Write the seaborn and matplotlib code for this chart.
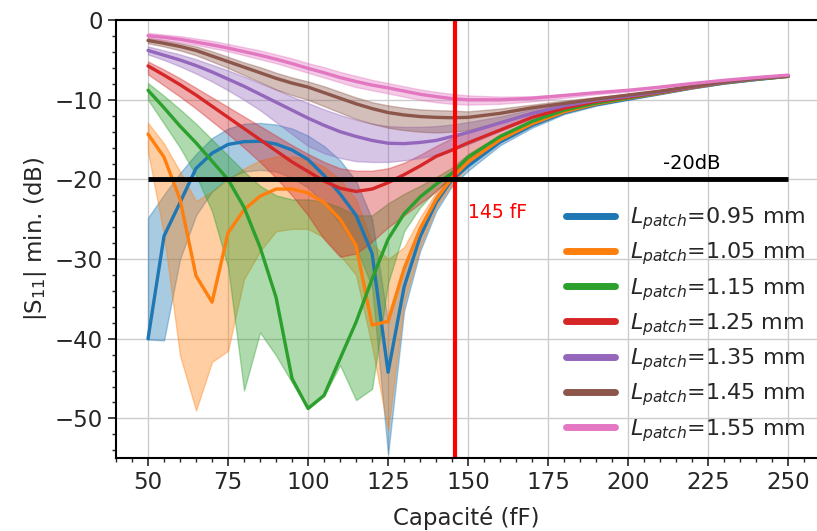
import matplotlib
matplotlib.use("Agg")
import matplotlib.pyplot as plt
from matplotlib.ticker import MultipleLocator
import numpy as np
import pandas as pd
import seaborn as sns

sns.set_style("ticks")
plt.rcParams["font.family"] = ["DejaVu Sans"]

# capacitance (fF)
cap = [50, 55, 60, 65, 70, 75, 80, 85, 90, 95, 100, 105, 110, 115, 120, 125, 130, 135, 140, 145, 150,
       160, 170, 180, 190, 200, 210, 220, 230, 240, 250]

patch_labels = ["0.95", "1.05", "1.15", "1.25", "1.35", "1.45", "1.55"]

# |S11| min (dB): line, upper and lower envelope for each patch length
s11_095 = [-40.0, -27.1, -22.9, -18.6, -16.7, -15.6, -15.25, -15.2, -15.55, -16.3, -17.5, -19.5, -21.8, -24.5, -29.3, -44.2, -33.5, -27.2, -22.9, -20.0, -18.3,
           -15.3, -13.2, -11.6, -10.6, -9.9, -9.2, -8.5, -7.9, -7.45, -7.05]
hi_095 = [-24.8, -21.9, -19.2, -16.8, -14.8, -13.6, -13.0, -12.9, -13.1, -13.6, -14.5, -15.8, -17.6, -20.2, -25.0, -38.0, -31.0, -25.8, -22.0, -19.3, -17.8,
          -15.0, -13.0, -11.45, -10.5, -9.8, -9.12, -8.45, -7.86, -7.42, -7.02]
lo_095 = [-40.1, -40.2, -30.0, -24.5, -21.5, -19.8, -19.0, -18.8, -19.0, -19.8, -21.0, -23.0, -25.5, -28.5, -33.5, -54.5, -36.5, -29.0, -24.0, -20.8, -18.9,
          -15.7, -13.5, -11.8, -10.75, -10.0, -9.3, -8.58, -7.95, -7.5, -7.08]

s11_105 = [-14.3, -17.2, -22.5, -32.1, -35.4, -26.7, -23.8, -22.1, -21.2, -21.2, -21.7, -22.9, -25.0, -28.3, -38.3, -37.8, -31.2, -26.2, -22.5, -19.8, -17.8,
           -15.0, -13.0, -11.5, -10.5, -9.8, -9.15, -8.45, -7.85, -7.4, -7.05]
hi_105 = [-12.9, -15.5, -19.0, -22.7, -21.5, -20.0, -18.6, -17.6, -17.1, -17.1, -17.5, -18.4, -20.0, -22.5, -28.0, -30.0, -28.5, -24.8, -21.6, -19.2, -17.4,
          -14.75, -12.85, -11.4, -10.42, -9.74, -9.1, -8.42, -7.83, -7.38, -7.03]
lo_105 = [-16.5, -27.0, -42.1, -49.0, -42.9, -41.5, -32.5, -29.0, -26.5, -26.2, -26.2, -27.3, -29.5, -32.0, -41.0, -51.5, -35.5, -28.5, -23.5, -20.6, -18.3,
          -15.3, -13.2, -11.65, -10.6, -9.88, -9.22, -8.5, -7.9, -7.43, -7.07]

s11_115 = [-8.8, -11.0, -13.3, -15.4, -17.7, -20.0, -23.5, -28.5, -34.8, -45.0, -48.75, -47.1, -42.5, -37.9, -32.5, -27.5, -24.3, -22.2, -20.6, -19.2, -17.2,
           -14.6, -12.7, -11.3, -10.4, -9.75, -9.1, -8.4, -7.85, -7.4, -7.05]
hi_115 = [-7.9, -9.5, -11.2, -13.0, -15.0, -17.0, -19.0, -20.8, -22.0, -22.5, -22.5, -22.8, -23.5, -24.5, -24.5, -23.0, -21.8, -20.8, -19.7, -18.5, -16.8,
          -14.4, -12.55, -11.2, -10.33, -9.7, -9.06, -8.37, -7.83, -7.38, -7.03]
lo_115 = [-10.0, -13.0, -16.0, -19.5, -24.0, -31.0, -46.5, -39.2, -42.1, -45.5, -48.8, -47.2, -43.3, -47.7, -46.3, -33.0, -26.5, -23.5, -21.3, -19.8, -17.6,
          -14.85, -12.85, -11.42, -10.48, -9.8, -9.14, -8.44, -7.88, -7.42, -7.07]

s11_125 = [-5.75, -6.9, -8.1, -9.4, -10.8, -12.2, -13.6, -15.0, -16.4, -17.8, -19.0, -20.2, -21.1, -21.5, -21.2, -20.4, -19.4, -18.3, -17.1, -16.3, -15.4,
           -13.8, -12.2, -11.05, -10.2, -9.65, -9.05, -8.4, -7.8, -7.35, -7.0]
hi_125 = [-5.2, -6.2, -7.3, -8.5, -9.7, -10.9, -12.1, -13.3, -14.5, -15.7, -16.8, -17.8, -18.6, -18.9, -18.9, -18.6, -17.9, -16.9, -15.8, -14.8, -14.0,
          -12.7, -11.5, -10.65, -9.95, -9.45, -8.95, -8.35, -7.75, -7.3, -6.98]
lo_125 = [-6.8, -8.2, -9.6, -11.1, -12.7, -14.3, -16.0, -17.8, -19.8, -22.0, -24.5, -27.5, -29.7, -29.3, -27.8, -26.0, -24.5, -23.0, -21.5, -19.5, -17.8,
          -15.0, -13.0, -11.6, -10.5, -9.8, -9.15, -8.45, -7.85, -7.4, -7.02]

s11_135 = [-3.8, -4.4, -5.0, -5.7, -6.5, -7.4, -8.3, -9.3, -10.3, -11.3, -12.3, -13.2, -14.0, -14.6, -15.1, -15.45, -15.5, -15.35, -15.1, -14.6, -14.1,
           -12.9, -11.7, -10.75, -10.05, -9.55, -9.0, -8.35, -7.8, -7.35, -7.0]
hi_135 = [-3.3, -3.8, -4.3, -4.9, -5.6, -6.3, -7.1, -7.9, -8.7, -9.6, -10.4, -11.2, -11.9, -12.5, -13.0, -13.3, -13.4, -13.4, -13.3, -13.1, -12.8,
          -12.1, -11.2, -10.45, -9.85, -9.4, -8.9, -8.3, -7.75, -7.3, -6.98]
lo_135 = [-4.3, -5.0, -5.8, -6.7, -7.7, -8.8, -10.0, -11.3, -12.8, -14.3, -15.8, -16.7, -17.3, -17.7, -17.8, -17.8, -17.6, -17.3, -16.9, -16.3, -15.6,
          -13.9, -12.3, -11.1, -10.3, -9.72, -9.12, -8.42, -7.85, -7.4, -7.03]

s11_145 = [-2.55, -2.9, -3.3, -3.8, -4.5, -5.2, -5.9, -6.6, -7.3, -7.9, -8.4, -9.1, -9.8, -10.5, -11.1, -11.6, -11.9, -12.1, -12.2, -12.25, -12.2,
           -11.7, -11.0, -10.45, -9.9, -9.4, -8.9, -8.3, -7.75, -7.3, -6.98]
hi_145 = [-2.2, -2.5, -2.9, -3.3, -3.9, -4.6, -5.3, -5.9, -6.6, -7.2, -7.7, -8.3, -9.0, -9.7, -10.3, -10.7, -11.0, -11.2, -11.3, -11.35, -11.45,
          -11.1, -10.6, -10.1, -9.65, -9.25, -8.8, -8.25, -7.7, -7.25, -6.95]
lo_145 = [-2.9, -3.3, -3.8, -4.4, -5.2, -6.0, -6.9, -7.8, -8.7, -9.4, -10.0, -10.8, -11.6, -12.4, -13.0, -13.5, -13.8, -14.0, -14.1, -14.0, -13.8,
          -12.8, -11.7, -10.9, -10.2, -9.6, -9.0, -8.35, -7.8, -7.35, -7.0]

s11_155 = [-1.95, -2.15, -2.4, -2.75, -3.1, -3.5, -3.95, -4.4, -4.9, -5.45, -6.05, -6.6, -7.2, -7.7, -8.15, -8.5, -8.9, -9.3, -9.6, -9.85, -10.0,
           -10.0, -9.8, -9.45, -9.1, -8.8, -8.4, -7.95, -7.55, -7.2, -6.9]
hi_155 = [-1.6, -1.8, -2.0, -2.3, -2.6, -3.0, -3.4, -3.8, -4.3, -4.8, -5.4, -5.9, -6.5, -7.0, -7.5, -7.9, -8.3, -8.7, -9.0, -9.25, -9.45,
          -9.6, -9.55, -9.3, -9.0, -8.7, -8.35, -7.9, -7.5, -7.15, -6.85]
lo_155 = [-2.3, -2.5, -2.8, -3.1, -3.5, -3.9, -4.4, -4.9, -5.4, -6.0, -6.6, -7.2, -7.8, -8.4, -8.8, -9.2, -9.6, -10.0, -10.3, -10.5, -10.6,
          -10.5, -10.2, -9.75, -9.3, -8.95, -8.5, -8.0, -7.6, -7.25, -6.95]

lines = [s11_095, s11_105, s11_115, s11_125, s11_135, s11_145, s11_155]
uppers = [hi_095, hi_105, hi_115, hi_125, hi_135, hi_145, hi_155]
lowers = [lo_095, lo_105, lo_115, lo_125, lo_135, lo_145, lo_155]

rows = []
for lab, vals in zip(patch_labels, lines):
    for c, v in zip(cap, vals):
        rows.append({"cap": c, "s11": v, "L": r"$L_{patch}$=" + lab + " mm"})
df = pd.DataFrame(rows)

colors = sns.color_palette("tab10", 7)

fig = plt.figure(figsize=(8.17, 5.31), dpi=100)
ax = fig.add_axes([0.142, 0.137, 0.858, 0.825])

# shaded min/max envelopes
for i in range(7):
    ax.fill_between(cap, lowers[i], uppers[i], color=colors[i], alpha=0.38, linewidth=1)

sns.lineplot(data=df, x="cap", y="s11", hue="L", palette=colors, linewidth=2.4, ax=ax, legend=True)

ax.axvline(146, color="red", linewidth=3)
ax.hlines(-20, 50, 250, color="black", linewidth=3.5)
ax.text(150, -24.2, "145 fF", color="red", fontsize=13.5, va="center")
ax.text(211, -18.0, "-20dB", color="black", fontsize=14, va="center")

ax.set_xlim(40, 259)
ax.set_ylim(-55, 0)
ax.xaxis.set_major_locator(MultipleLocator(25))
ax.xaxis.set_minor_locator(MultipleLocator(5))
ax.yaxis.set_major_locator(MultipleLocator(10))
ax.yaxis.set_minor_locator(MultipleLocator(2))
ax.grid(True, which="major", color="#cccccc", linewidth=1)
ax.tick_params(which="major", labelsize=16.5, length=6, width=1.2)
ax.tick_params(which="minor", length=3, width=1)
ax.spines["right"].set_visible(False)
for s in ["left", "bottom", "top"]:
    ax.spines[s].set_color("black")
    ax.spines[s].set_linewidth(1.5)

ax.set_xlabel("Capacité (fF)", fontsize=16.5, labelpad=8)
ax.set_ylabel(r"|S$_{11}$| min. (dB)", fontsize=16.5)

handles, labels = ax.get_legend_handles_labels()
leg = ax.legend(handles, labels, loc="lower right", bbox_to_anchor=(1.013, -0.012),
                frameon=False, fontsize=16, labelspacing=0.38, handlelength=2.2,
                handletextpad=0.7)
for h in leg.get_lines():
    h.set_linewidth(5)

fig.savefig("out.png", dpi=100)
